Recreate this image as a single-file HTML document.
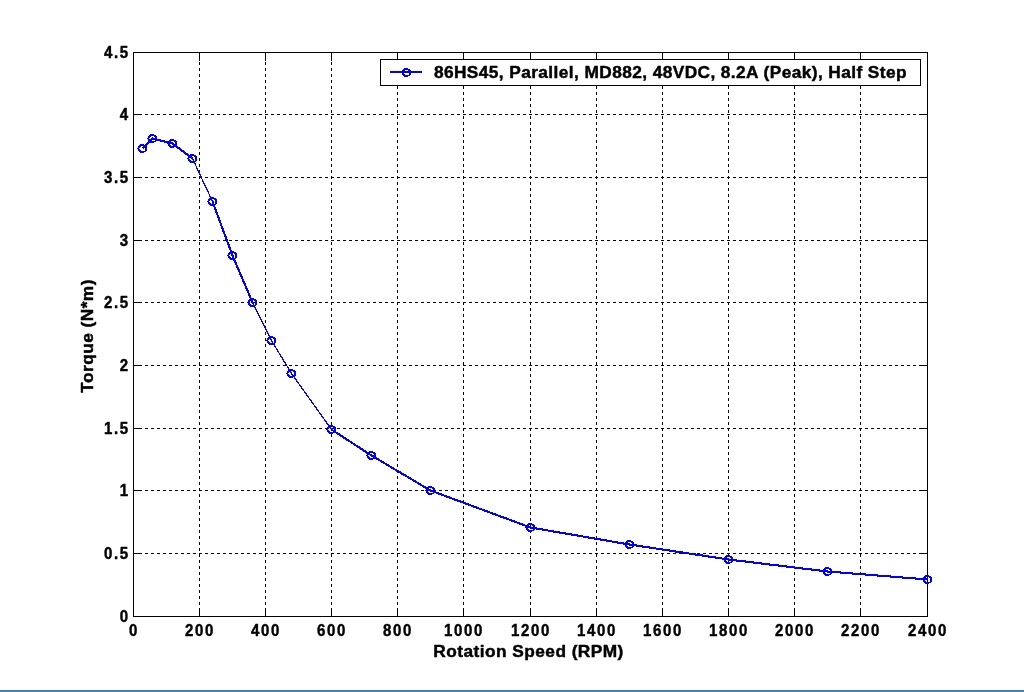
<!DOCTYPE html>
<html lang="en"><head><meta charset="utf-8"><title>86HS45 Torque Curve</title>
<style>
html,body{margin:0;padding:0;background:#fff;}
body{width:1024px;height:692px;overflow:hidden;position:relative;}
svg{position:absolute;left:0;top:0;display:block;will-change:transform;}
text{font-family:'Liberation Sans', Arial, Helvetica, sans-serif;font-weight:bold;font-size:17.3px;letter-spacing:0.45px;fill:#000;stroke:#000;stroke-width:0.45px;stroke-linejoin:round;}
text.tk{font-size:17.3px;letter-spacing:1.87px;}
text.lg{letter-spacing:0.412px;}
.ax{stroke:#000;stroke-width:1;fill:none;shape-rendering:crispEdges;}
.gr{stroke:#000;stroke-width:1;fill:none;stroke-dasharray:3 3;shape-rendering:crispEdges;}
.cv{stroke:#0000ff;fill:none;shape-rendering:crispEdges;}
.bar1{position:absolute;left:0;top:690px;width:1024px;height:1px;background:#3a7bbe;}
.bar2{position:absolute;left:0;top:691px;width:1024px;height:1px;background:#4080c0;}
</style></head><body>
<svg width="1024" height="692" viewBox="0 0 1024 692">
<rect x="0" y="0" width="1024" height="692" fill="#ffffff"/>
<g class="gr">
<line x1="199.5" y1="617" x2="199.5" y2="52"/>
<line x1="265.5" y1="617" x2="265.5" y2="52"/>
<line x1="331.5" y1="617" x2="331.5" y2="52"/>
<line x1="397.5" y1="617" x2="397.5" y2="52"/>
<line x1="463.5" y1="617" x2="463.5" y2="52"/>
<line x1="530.5" y1="617" x2="530.5" y2="52"/>
<line x1="596.5" y1="617" x2="596.5" y2="52"/>
<line x1="662.5" y1="617" x2="662.5" y2="52"/>
<line x1="728.5" y1="617" x2="728.5" y2="52"/>
<line x1="794.5" y1="617" x2="794.5" y2="52"/>
<line x1="860.5" y1="617" x2="860.5" y2="52"/>
<line x1="133" y1="553.5" x2="928" y2="553.5"/>
<line x1="133" y1="490.5" x2="928" y2="490.5"/>
<line x1="133" y1="428.5" x2="928" y2="428.5"/>
<line x1="133" y1="365.5" x2="928" y2="365.5"/>
<line x1="133" y1="302.5" x2="928" y2="302.5"/>
<line x1="133" y1="240.5" x2="928" y2="240.5"/>
<line x1="133" y1="177.5" x2="928" y2="177.5"/>
<line x1="133" y1="114.5" x2="928" y2="114.5"/>
</g>
<g class="ax">
<rect x="133.5" y="52.5" width="794" height="564"/>
<line x1="199.5" y1="616" x2="199.5" y2="608"/>
<line x1="199.5" y1="53" x2="199.5" y2="61"/>
<line x1="265.5" y1="616" x2="265.5" y2="608"/>
<line x1="265.5" y1="53" x2="265.5" y2="61"/>
<line x1="331.5" y1="616" x2="331.5" y2="608"/>
<line x1="331.5" y1="53" x2="331.5" y2="61"/>
<line x1="397.5" y1="616" x2="397.5" y2="608"/>
<line x1="397.5" y1="53" x2="397.5" y2="61"/>
<line x1="463.5" y1="616" x2="463.5" y2="608"/>
<line x1="463.5" y1="53" x2="463.5" y2="61"/>
<line x1="530.5" y1="616" x2="530.5" y2="608"/>
<line x1="530.5" y1="53" x2="530.5" y2="61"/>
<line x1="596.5" y1="616" x2="596.5" y2="608"/>
<line x1="596.5" y1="53" x2="596.5" y2="61"/>
<line x1="662.5" y1="616" x2="662.5" y2="608"/>
<line x1="662.5" y1="53" x2="662.5" y2="61"/>
<line x1="728.5" y1="616" x2="728.5" y2="608"/>
<line x1="728.5" y1="53" x2="728.5" y2="61"/>
<line x1="794.5" y1="616" x2="794.5" y2="608"/>
<line x1="794.5" y1="53" x2="794.5" y2="61"/>
<line x1="860.5" y1="616" x2="860.5" y2="608"/>
<line x1="860.5" y1="53" x2="860.5" y2="61"/>
<line x1="134" y1="553.5" x2="142" y2="553.5"/>
<line x1="927" y1="553.5" x2="919" y2="553.5"/>
<line x1="134" y1="490.5" x2="142" y2="490.5"/>
<line x1="927" y1="490.5" x2="919" y2="490.5"/>
<line x1="134" y1="428.5" x2="142" y2="428.5"/>
<line x1="927" y1="428.5" x2="919" y2="428.5"/>
<line x1="134" y1="365.5" x2="142" y2="365.5"/>
<line x1="927" y1="365.5" x2="919" y2="365.5"/>
<line x1="134" y1="302.5" x2="142" y2="302.5"/>
<line x1="927" y1="302.5" x2="919" y2="302.5"/>
<line x1="134" y1="240.5" x2="142" y2="240.5"/>
<line x1="927" y1="240.5" x2="919" y2="240.5"/>
<line x1="134" y1="177.5" x2="142" y2="177.5"/>
<line x1="927" y1="177.5" x2="919" y2="177.5"/>
<line x1="134" y1="114.5" x2="142" y2="114.5"/>
<line x1="927" y1="114.5" x2="919" y2="114.5"/>
</g>
<polyline class="cv" stroke-width="1.25" points="142.5,148.5 152.5,138.5 172.5,143.5 192.5,158.5 212.5,201.5 232.5,255.5 252.5,302.5 271.5,340.5 291.5,373.5 331.5,429.5 371.5,455.5 430.5,490.5 530.5,527.5 629.5,544.5 728.5,559.5 827.5,571.5 927.5,579.5"/>
<polyline class="cv" stroke-width="2.1" points="142.5,148.5 152.5,138.5 172.5,143.5 192.5,158.5"/>
<polyline class="cv" stroke-width="2.1" points="212.5,201.5 232.5,255.5 252.5,302.5"/>
<polyline class="cv" stroke-width="2.1" points="331.5,429.5 371.5,455.5 430.5,490.5 530.5,527.5 629.5,544.5 728.5,559.5 827.5,571.5 927.5,579.5"/>
<defs><path id="mk" d="M-2 -4h4v1h-4zM-3 -3h7v1h-7zM-4 -2h3v1h-3zM2 -2h3v1h-3zM-4 -1h2v1h-2zM3 -1h2v1h-2zM-5 0h2v1h-2zM3 0h2v1h-2zM-4 1h2v1h-2zM3 1h2v1h-2zM-4 2h3v1h-3zM3 2h2v1h-2zM-3 3h7v1h-7zM-2 4h4v1h-4z" fill="#0000ff" shape-rendering="crispEdges"/></defs>
<g>
<use href="#mk" x="142" y="148"/>
<use href="#mk" x="152" y="138"/>
<use href="#mk" x="172" y="143"/>
<use href="#mk" x="192" y="158"/>
<use href="#mk" x="212" y="201"/>
<use href="#mk" x="232" y="255"/>
<use href="#mk" x="252" y="302"/>
<use href="#mk" x="271" y="340"/>
<use href="#mk" x="291" y="373"/>
<use href="#mk" x="331" y="429"/>
<use href="#mk" x="371" y="455"/>
<use href="#mk" x="430" y="490"/>
<use href="#mk" x="530" y="527"/>
<use href="#mk" x="629" y="544"/>
<use href="#mk" x="728" y="559"/>
<use href="#mk" x="827" y="571"/>
<use href="#mk" x="927" y="579"/>
</g>
<g text-anchor="middle">
<text class="tk" transform="translate(134.01,635.7) scale(0.87,1)">0</text>
<text class="tk" transform="translate(200.01,635.7) scale(0.87,1)">200</text>
<text class="tk" transform="translate(266.01,635.7) scale(0.87,1)">400</text>
<text class="tk" transform="translate(332.01,635.7) scale(0.87,1)">600</text>
<text class="tk" transform="translate(398.01,635.7) scale(0.87,1)">800</text>
<text class="tk" transform="translate(464.01,635.7) scale(0.87,1)">1000</text>
<text class="tk" transform="translate(531.01,635.7) scale(0.87,1)">1200</text>
<text class="tk" transform="translate(597.01,635.7) scale(0.87,1)">1400</text>
<text class="tk" transform="translate(663.01,635.7) scale(0.87,1)">1600</text>
<text class="tk" transform="translate(729.01,635.7) scale(0.87,1)">1800</text>
<text class="tk" transform="translate(795.01,635.7) scale(0.87,1)">2000</text>
<text class="tk" transform="translate(861.01,635.7) scale(0.87,1)">2200</text>
<text class="tk" transform="translate(928.01,635.7) scale(0.87,1)">2400</text>
</g>
<g text-anchor="end">
<text class="tk" transform="translate(129.83,621.9) scale(0.87,1)">0</text>
<text class="tk" transform="translate(129.83,558.9) scale(0.87,1)">0.5</text>
<text class="tk" transform="translate(129.83,495.9) scale(0.87,1)">1</text>
<text class="tk" transform="translate(129.83,433.9) scale(0.87,1)">1.5</text>
<text class="tk" transform="translate(129.83,370.9) scale(0.87,1)">2</text>
<text class="tk" transform="translate(129.83,307.9) scale(0.87,1)">2.5</text>
<text class="tk" transform="translate(129.83,245.9) scale(0.87,1)">3</text>
<text class="tk" transform="translate(129.83,182.9) scale(0.87,1)">3.5</text>
<text class="tk" transform="translate(129.83,119.9) scale(0.87,1)">4</text>
<text class="tk" transform="translate(129.83,57.9) scale(0.87,1)">4.5</text>
</g>
<text x="528.6" y="656.5" text-anchor="middle">Rotation Speed (RPM)</text>
<text transform="translate(93.3,335.9) rotate(-90)" text-anchor="middle">Torque (N*m)</text>
<rect class="ax" x="380.5" y="59.5" width="540" height="26" fill="#ffffff" style="fill:#fff"/>
<line class="cv" x1="390" y1="72" x2="422" y2="72" stroke-width="2" shape-rendering="crispEdges"/>
<use href="#mk" x="406" y="72"/>
<text x="433.9" y="77.7" class="lg">86HS45, Parallel, MD882, 48VDC, 8.2A (Peak), Half Step</text>
</svg>
<div class="bar1"></div><div class="bar2"></div>
</body></html>
